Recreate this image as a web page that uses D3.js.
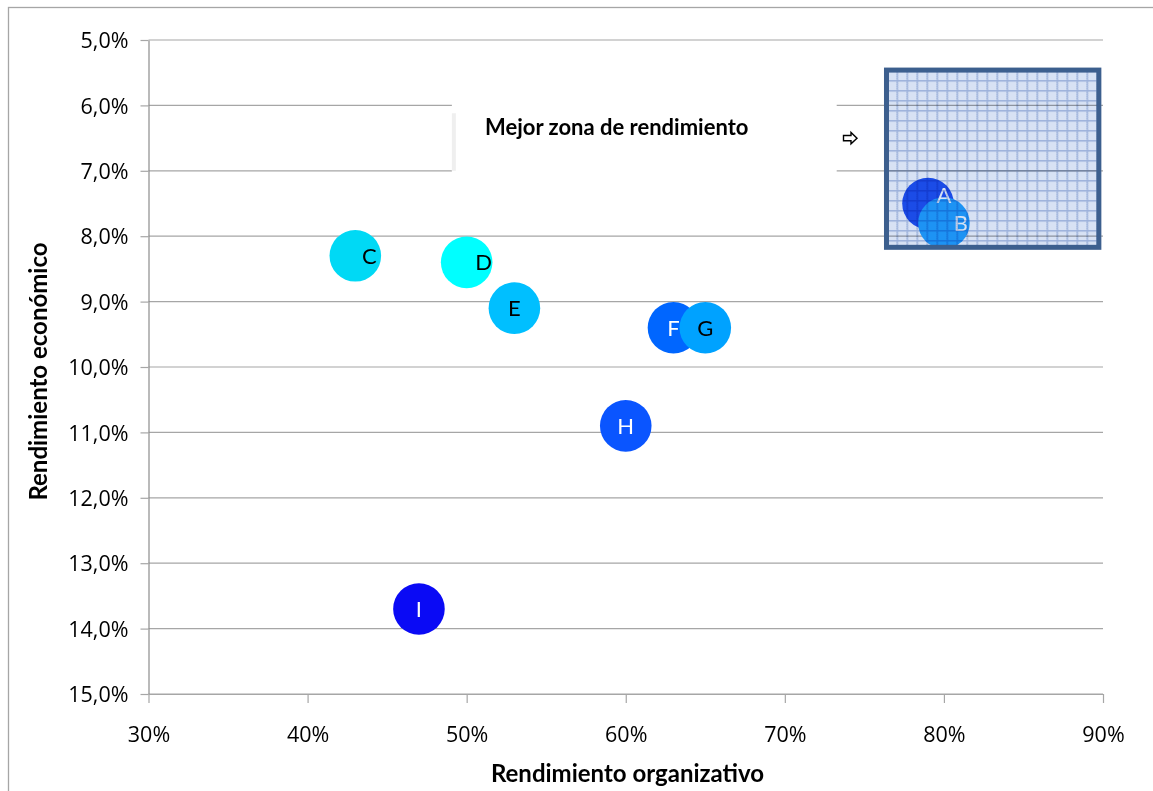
<!DOCTYPE html>
<html>
<head>
<meta charset="utf-8">
<script src="https://cdn.jsdelivr.net/npm/d3@7"></script>
<style>
  body { margin: 0; background: #fff; }
  svg { display: block; }
</style>
</head>
<body>
<svg id="chart" width="1153" height="791"></svg>
<script>
// Company codes and their two performance measures
const labels   = ["A", "B", "C", "D", "E", "F", "G", "H", "I"];
const orgPerf  = [0.79, 0.80, 0.43, 0.50, 0.53, 0.63, 0.65, 0.60, 0.47];
const econPerf = [0.075, 0.078, 0.083, 0.084, 0.091, 0.094, 0.094, 0.109, 0.137];
const bubbleSize = [1, 1, 1, 1, 1, 1, 1, 1, 1];

// Axis ticks
const xTicks = [0.3, 0.4, 0.5, 0.6, 0.7, 0.8, 0.9];
const yTicks = [0.05, 0.06, 0.07, 0.08, 0.09, 0.10, 0.11, 0.12, 0.13, 0.14, 0.15];

// Text
const xTitle = "Rendimiento organizativo";
const yTitle = "Rendimiento económico";
const zoneTitle = "Mejor zona de rendimiento";

// Styling per bubble
const bubbleColors = ["#1f55f2", "#22a6ff", "#00d9f5", "#00ffff", "#00bfff", "#0066ff", "#00a2ff", "#0a55ff", "#0a0af5"];
const labelColors  = ["#ffffff", "#ffffff", "#000000", "#000000", "#000000", "#ffffff", "#000000", "#ffffff", "#ffffff"];
const labelShiftX  = [16, 17, 14, 17, 0, 0, 0, 0, 0];
const labelShiftY  = [-8, 0, 0, 0, 0, 0, 0, 0, 0];

// Highlighted zone (in data units)
const zoneX = [0.7639, 0.8974];
const zoneY = [0.0546, 0.0817];

const svg = d3.select("#chart");
const W = 1153, H = 791;

const x = d3.scaleLinear().domain([0.3, 0.9]).range([148.5, 1103]);
const y = d3.scaleLinear().domain([0.05, 0.15]).range([40, 694]);
const r = d3.scaleSqrt().domain([0, 1]).range([0, 25.8]);

const esLocale = d3.formatLocale({ decimal: ",", thousands: ".", grouping: [3], currency: ["", " €"] });
const fmtY = esLocale.format(".1%");
const fmtX = esLocale.format(".0%");

// Outer chart frame
svg.append("rect")
  .attr("x", 8.5).attr("y", 7.5)
  .attr("width", W + 50).attr("height", H + 50)
  .attr("fill", "none").attr("stroke", "#a6a6a6").attr("stroke-width", 1.3);

// Fill pattern for the highlighted zone (multiplied over what lies beneath)
const defs = svg.append("defs");
const pat = defs.append("pattern")
  .attr("id", "zoneGrid")
  .attr("patternUnits", "userSpaceOnUse")
  .attr("width", 10).attr("height", 10)
  .attr("x", x(zoneX[0])).attr("y", y(zoneY[0]));
pat.append("rect").attr("width", 10).attr("height", 10).attr("fill", "#c9d7ef");
const dots = [];
for (let i = 0; i < 10; i++) for (let j = 0; j < 10; j++) if ((i + j) % 2 === 0 && (i * 3 + j) % 4 !== 1) dots.push([i, j]);
pat.selectAll("rect.dot").data(dots).enter().append("rect")
  .attr("class", "dot")
  .attr("x", d => d[0]).attr("y", d => d[1])
  .attr("width", 1).attr("height", 1)
  .attr("fill", "#e6edf9");
pat.append("path")
  .attr("d", "M0 0.75H10M0.75 0V10")
  .attr("stroke", "#9ab0da")
  .attr("stroke-width", 1.5);

// Horizontal gridlines
svg.append("g").selectAll("line").data(yTicks).enter().append("line")
  .attr("x1", x(0.3)).attr("x2", x(0.9))
  .attr("y1", d => y(d)).attr("y2", d => y(d))
  .attr("stroke", "#a6a6a6").attr("stroke-width", 1.2);

// Y axis
const yAxis = svg.append("g")
  .attr("transform", `translate(${x(0.3)},0)`)
  .call(d3.axisLeft(y).tickValues(yTicks).tickFormat(fmtY).tickSize(8).tickSizeOuter(0).tickPadding(12));
yAxis.select(".domain").attr("stroke", "#8c8c8c").attr("stroke-width", 1.2);
yAxis.selectAll(".tick line").attr("stroke", "#a6a6a6").attr("stroke-width", 1.2);
yAxis.selectAll(".tick text")
  .attr("font-family", "'Open Sans', sans-serif").attr("font-size", 21.5)
  .attr("fill", "#000").attr("dy", "0.36em");

// X axis
const xAxis = svg.append("g")
  .attr("transform", `translate(0,${y(0.15)})`)
  .call(d3.axisBottom(x).tickValues(xTicks).tickFormat(fmtX).tickSize(9).tickSizeOuter(0));
xAxis.select(".domain").attr("stroke", "#a6a6a6").attr("stroke-width", 1.2);
xAxis.selectAll(".tick line").attr("stroke", "#a6a6a6").attr("stroke-width", 1.2);
xAxis.selectAll(".tick text")
  .attr("font-family", "'Open Sans', sans-serif").attr("font-size", 21.5)
  .attr("fill", "#000").attr("y", 48).attr("dy", 0);

// Annotation text box
const tb = svg.append("g");
tb.append("rect")
  .attr("x", x(0.4907)).attr("y", y(0.0592))
  .attr("width", x(0.7326) - x(0.4907)).attr("height", y(0.0709) - y(0.0592))
  .attr("fill", "#fff");
tb.append("rect")
  .attr("x", x(0.4907)).attr("y", y(0.0612))
  .attr("width", 4).attr("height", y(0.0700) - y(0.0612))
  .attr("fill", "#efefef");
tb.append("text")
  .attr("x", 485).attr("y", 135)
  .attr("font-family", "Lato, sans-serif").attr("font-weight", 700).attr("font-size", 22)
  .attr("fill", "#000")
  .text(zoneTitle);
// Small outlined arrow pointing to the zone
tb.append("path")
  .attr("d", "M843.5,135.5 H851 V132.5 L857,138.2 L851,143.8 V140.8 H843.5 Z")
  .attr("fill", "#fff").attr("stroke", "#000").attr("stroke-width", 1.4);

// Bubbles
const data = labels.map((l, i) => ({
  label: l, x: orgPerf[i], y: econPerf[i], s: bubbleSize[i],
  color: bubbleColors[i], tcolor: labelColors[i], dx: labelShiftX[i], dy: labelShiftY[i]
}));

svg.append("g").selectAll("circle").data(data).enter().append("circle")
  .attr("cx", d => x(d.x)).attr("cy", d => y(d.y))
  .attr("r", d => r(d.s))
  .attr("fill", d => d.color);

svg.append("g").selectAll("text").data(data).enter().append("text")
  .attr("x", d => x(d.x) + d.dx)
  .attr("y", d => y(d.y) + d.dy)
  .attr("text-anchor", "middle")
  .attr("dy", "0.36em")
  .attr("font-family", "Lato, sans-serif").attr("font-size", 22)
  .attr("fill", d => d.tcolor)
  .text(d => d.label);

// Highlighted zone laid over the bubbles
svg.append("rect")
  .attr("x", x(zoneX[0])).attr("y", y(zoneY[0]))
  .attr("width", x(zoneX[1]) - x(zoneX[0]))
  .attr("height", y(zoneY[1]) - y(zoneY[0]))
  .attr("fill", "url(#zoneGrid)")
  .style("mix-blend-mode", "multiply");
svg.append("rect")
  .attr("x", x(zoneX[0])).attr("y", y(zoneY[0]))
  .attr("width", x(zoneX[1]) - x(zoneX[0]))
  .attr("height", y(zoneY[1]) - y(zoneY[0]))
  .attr("fill", "none")
  .attr("stroke", "#3c5f8e").attr("stroke-width", 5);

// Axis titles
svg.append("text")
  .attr("x", 627.5).attr("y", 782)
  .attr("text-anchor", "middle")
  .attr("font-family", "Lato, sans-serif").attr("font-weight", 700).attr("font-size", 24)
  .attr("fill", "#000")
  .text(xTitle);
svg.append("text")
  .attr("transform", "translate(46.5,371.5) rotate(-90)")
  .attr("text-anchor", "middle")
  .attr("font-family", "Lato, sans-serif").attr("font-weight", 700).attr("font-size", 24)
  .attr("fill", "#000")
  .text(yTitle);
</script>
</body>
</html>
